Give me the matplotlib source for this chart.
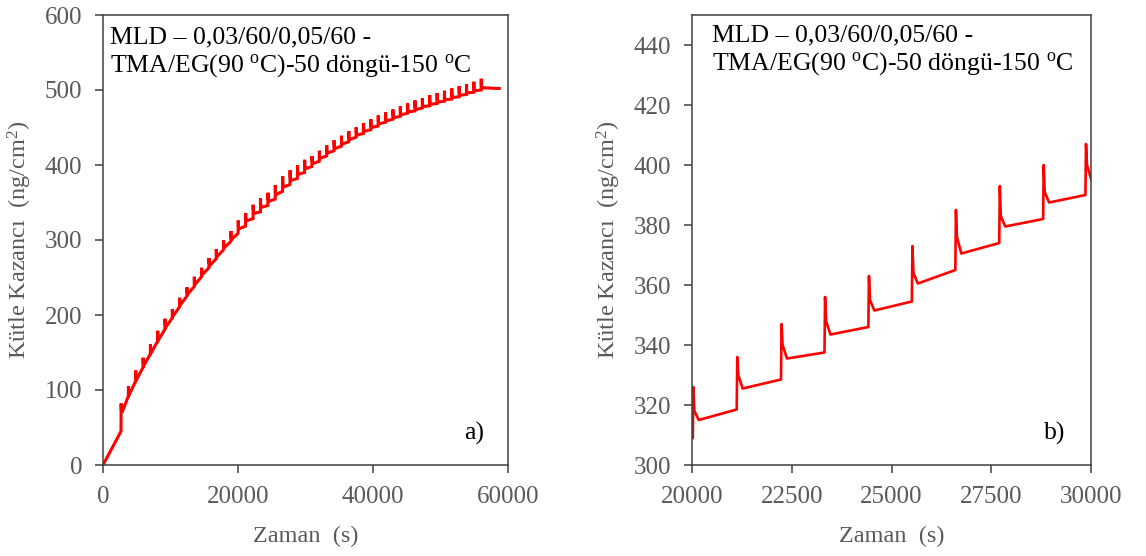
import matplotlib
matplotlib.use("Agg")
import matplotlib.pyplot as plt
import numpy as np

plt.rcParams['font.family'] = ['Liberation Serif', 'DejaVu Serif']
plt.rcParams['mathtext.fontset'] = 'custom'
plt.rcParams['mathtext.rm'] = 'Liberation Serif'
plt.rcParams['mathtext.it'] = 'Liberation Serif:italic'

# ---- data ----
ramp_time = [0, 2670]
ramp_mass = [0, 45]

cycle_time = [2670, 3755, 4840, 5925, 7010, 8090, 9175, 10260, 11345, 12430,
              13515, 14600, 15685, 16770, 17850, 18935, 20020, 21120, 22230, 23320,
              24420, 25510, 26600, 27700, 28800, 29860, 30950, 32040, 33130, 34220,
              35310, 36400, 37490, 38580, 39670, 40760, 41850, 42940, 44030, 45120,
              46210, 47300, 48390, 49480, 50570, 51660, 52750, 53840, 54930, 56020]
mass_before = [45, 92, 112, 130, 148, 165, 181, 196, 211, 225,
               238, 251, 263, 275, 287, 298, 309, 318.5, 328.5, 337.5,
               346, 354.5, 365, 374, 382, 390, 398, 405, 412, 419,
               425, 431, 437, 442, 447, 452, 457, 461, 465, 469,
               472, 476, 479, 482, 485, 488, 491, 494, 497, 500]
mass_peak = [82, 105, 126, 143, 161, 179, 195, 208, 223, 237,
             251, 263, 276, 288, 300, 312, 326, 336, 347, 356,
             363, 373, 385, 393, 400, 407, 412, 419, 426, 433,
             439, 445, 450, 456, 461, 466, 470, 474, 478, 482,
             486, 489, 493, 496, 499, 502, 505, 508, 511, 515]
mass_mid = [74, 97, 118, 136, 153, 170, 187, 201, 216, 230,
            244, 256, 269, 281, 293, 304, 318, 330, 340, 348,
            355, 364, 376, 383, 391, 400, 405, 412, 419, 425,
            431, 437, 443, 448, 453, 458, 462, 466, 470, 474,
            477, 481, 484, 487, 490, 493, 496, 499, 502, 505]
mass_after = [70, 94, 114, 133, 150, 167, 184, 199, 214, 228,
              241, 254, 266, 278, 290, 301, 315, 325.5, 335.5, 343.5,
              351.5, 360.5, 370.5, 379.5, 387.5, 395, 402, 409, 416, 422,
              428, 434, 440, 445, 450, 455, 459, 463, 467, 471,
              474, 478, 481, 484, 487, 490, 493, 496, 499, 503]
tail_time = [58700]
tail_mass = [502]

# ---- build the trace from the read values ----
t_list = list(ramp_time)
m_list = list(ramp_mass)
for t, b, p, md, a in zip(cycle_time, mass_before, mass_peak, mass_mid, mass_after):
    t_list += [t, t + 15, t + 40, t + 150]
    m_list += [b, p, md, a]
t_list += tail_time
m_list += tail_mass
t_arr = np.array(t_list, dtype=float)
m_arr = np.array(m_list, dtype=float)

title_text = "MLD \u2013 0,03/60/0,05/60 -\nTMA/EG(90 $^\\mathrm{o}$C)-50 d\u00f6ng\u00fc-150 $^\\mathrm{o}$C"
xlab = "Zaman  (s)"
ylab = "K\u00fctle Kazanc\u0131  (ng/cm$^\\mathrm{2}$)"

gray = '#595959'
FS = 18
fig = plt.figure(figsize=(11.46, 5.56), dpi=100)
ax1 = fig.add_axes([103/1146, 91/556, 405/1146, 450/556])
ax2 = fig.add_axes([692/1146, 91/556, 399/1146, 450/556])

ax1.plot(t_arr, m_arr, color='#ff0000', lw=2.2, solid_joinstyle='miter')
ax2.plot(t_arr, m_arr, color='#ff0000', lw=1.9)

ax1.set_xlim(0, 60000)
ax1.set_ylim(0, 600)
ax1.set_xticks([0, 20000, 40000, 60000])
ax1.set_yticks(range(0, 601, 100))
ax2.set_xlim(20000, 30000)
ax2.set_ylim(300, 450)
ax2.set_xticks([20000, 22500, 25000, 27500, 30000])
ax2.set_yticks(range(300, 441, 20))

for ax in (ax1, ax2):
    for name, s in ax.spines.items():
        s.set_color('#404040')
        s.set_linewidth(1.1)
    ax.tick_params(direction='out', length=6, width=1.1, color='#404040',
                   labelcolor=gray, labelsize=FS)
    ax.tick_params(axis='y', pad=9)
    ax.tick_params(axis='x', pad=9)
    ax.set_xlabel(xlab, color=gray, fontsize=17.5, labelpad=13)
    ax.set_ylabel(ylab, color=gray, fontsize=17.5, labelpad=8)

ax1.text(0.017, 0.975, title_text, transform=ax1.transAxes, ha='left', va='top',
         fontsize=18.5, color='black', linespacing=1.2)
ax2.text(0.05, 0.98, title_text, transform=ax2.transAxes, ha='left', va='top',
         fontsize=18.5, color='black', linespacing=1.2)
ax1.text(0.94, 0.07, "a)", transform=ax1.transAxes, ha='right', va='center',
         fontsize=18.5, color='black')
ax2.text(0.935, 0.07, "b)", transform=ax2.transAxes, ha='right', va='center',
         fontsize=18.5, color='black')

fig.savefig("out.png", dpi=100)
